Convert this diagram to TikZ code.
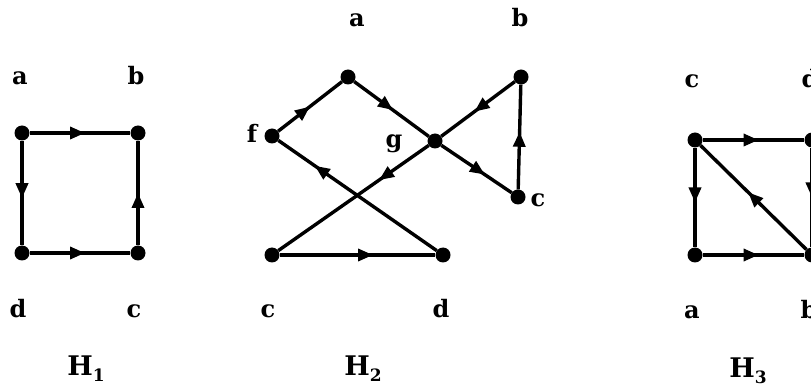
\documentclass[tikz,border=0pt]{standalone}
\usepackage{fontspec}
\setmainfont{DejaVu Serif}
\usetikzlibrary{decorations.markings,arrows.meta}
\begin{document}
\begin{tikzpicture}[x=1pt,y=-1pt,
  vtx/.style={circle,fill=black,inner sep=0pt,minimum size=15pt},
  lbl/.style={font=\bfseries\fontsize{24}{24}\selectfont, inner sep=0pt, anchor=base},
  hlbl/.style={font=\bfseries\fontsize{27}{27}\selectfont, inner sep=0pt, anchor=base},
  ln/.style={line width=3.4pt},
  arr/.style={ln, postaction={decorate}, decoration={markings, mark=at position #1 with {\arrow{Triangle[length=15pt,width=12pt]}}}},
  arr/.default=0.55
]
\useasboundingbox (0,0) rectangle (811,387);
\newcommand{\hsub}[1]{H\raisebox{-6pt}{\fontsize{17}{17}\selectfont #1}}

% ---------- H1 ----------
\node[vtx] (a1) at (22,133) {};
\node[vtx] (b1) at (138,133) {};
\node[vtx] (d1) at (22,253) {};
\node[vtx] (c1) at (138,253) {};
\draw[arr] (a1) -- (b1);
\draw[arr] (a1) -- (d1);
\draw[arr] (d1) -- (c1);
\draw[arr=0.5] (c1) -- (b1);
\node[lbl] (la1) at (20,85) {a};
\node[lbl] (lb1) at (136,85) {b};
\node[lbl] (ld1) at (18,317) {d};
\node[lbl] (lc1) at (134,317) {c};
\node[hlbl] (h1) at (86,375) {\hsub{1}};

% ---------- H2 ----------
\node[vtx] (a2) at (348,77) {};
\node[vtx] (b2) at (521,77) {};
\node[vtx] (f2) at (272,136) {};
\node[vtx] (g2) at (435,141) {};
\node[vtx] (c2) at (518,197) {};
\node[vtx] (cc2) at (272,255) {};
\node[vtx] (d2) at (443,255) {};
\draw[arr=0.5] (f2) -- (a2);
\draw[arr=0.52] (a2) -- (g2);
\draw[arr=0.62] (g2) -- (c2);
\draw[arr=0.55] (c2) -- (b2);
\draw[arr=0.55] (b2) -- (g2);
\draw[arr=0.33] (g2) -- (cc2);
\draw[arr=0.6] (cc2) -- (d2);
\draw[arr=0.77] (d2) -- (f2);
\node[lbl] (la2) at (357,27) {a};
\node[lbl] (lb2) at (520,27) {b};
\node[lbl] (lf2) at (252,143) {f};
\node[lbl] (lg2) at (394,148) {g};
\node[lbl] (lc2) at (538,207) {c};
\node[lbl] (lcc2) at (268,317) {c};
\node[lbl] (ld2) at (441,317) {d};
\node[hlbl] (h2) at (363,375) {\hsub{2}};

% ---------- H3 ----------
\node[vtx] (c3) at (695,140) {};
\node[vtx] (d3) at (812,140) {};
\node[vtx] (a3) at (695,255) {};
\node[vtx] (b3) at (812,255) {};
\draw[arr] (c3) -- (d3);
\draw[arr] (c3) -- (a3);
\draw[arr] (a3) -- (b3);
\draw[arr=0.55] (b3) -- (c3);
\draw[arr=0.5] (d3) -- (b3);
\node[lbl] (lc3) at (692,88) {c};
\node[lbl] (ld3) at (810,88) {d};
\node[lbl] (la3) at (692,319) {a};
\node[lbl] (lb3) at (809,319) {b};
\node[hlbl] (h3) at (748,377) {\hsub{3}};
\end{tikzpicture}
\end{document}
